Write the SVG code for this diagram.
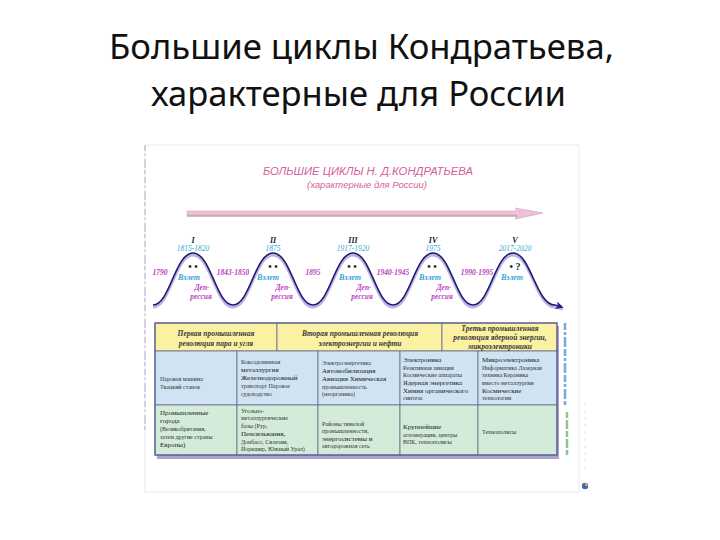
<svg xmlns="http://www.w3.org/2000/svg" width="720" height="540" viewBox="0 0 720 540">
<defs>
<style>
.ttl{font-family:"Noto Sans","Open Sans","Liberation Sans",sans-serif;font-size:35px;fill:#111}
.pk{font-family:"Liberation Sans",Arial,sans-serif;font-style:italic;fill:#d4609a}
.rn{font-family:"Liberation Serif",serif;font-style:italic;font-weight:bold;font-size:8px;fill:#222;text-anchor:middle}
.yr{font-family:"Liberation Serif",serif;font-style:italic;font-size:7.5px;fill:#3aa6d6;text-anchor:middle}
.yl{font-family:"Liberation Serif",serif;font-style:italic;font-weight:bold;font-size:7.5px;fill:#c040c0;text-anchor:middle}
.vz{font-family:"Liberation Serif",serif;font-style:italic;font-weight:bold;font-size:8px;fill:#3aa6d6;text-anchor:middle}
.dp{font-family:"Liberation Serif",serif;font-style:italic;font-weight:bold;font-size:7.5px;fill:#c040c0;text-anchor:middle}
.dot{font-family:"Liberation Serif",serif;font-weight:bold;font-size:10px;fill:#222;text-anchor:middle}
.hd{font-family:"Liberation Serif",serif;font-style:italic;font-weight:bold;font-size:7.5px;fill:#3a3a3a;text-anchor:middle}
.c{font-family:"Liberation Serif",serif;font-size:6px;fill:#333}
.b{font-size:7px;fill:#222}
.cell{stroke:#6a6a8a;stroke-width:0.8}
</style>
<marker id="ah" viewBox="0 0 10 10" refX="8" refY="5" markerWidth="5" markerHeight="5" orient="auto">
<path d="M0,0 L10,5 L0,10 L3,5 Z" fill="#22227a"/>
</marker>
</defs>
<rect width="720" height="540" fill="#fff"/>

<g id="slide-title">
<text class="ttl" x="109" y="59" textLength="505" lengthAdjust="spacingAndGlyphs">Большие циклы Кондратьева,</text>
<text class="ttl" x="151" y="106" textLength="415" lengthAdjust="spacingAndGlyphs">характерные для России</text>
</g>

<g id="frame">
<rect x="145" y="145" width="434" height="347" fill="#fff" stroke="#e6eaf2" stroke-width="1"/>
<line x1="145" y1="145" x2="145" y2="432" stroke="#c8c8d0" stroke-width="1.5" stroke-dasharray="6 3 2 3 9 2 4 3"/>
<line x1="585" y1="403" x2="585" y2="473" stroke="#e0e4ec" stroke-width="1" stroke-dasharray="3 4"/>
<circle cx="585" cy="486" r="3.2" fill="#3a6ab8"/>
<path d="M585,483 a3,3 0 0 1 3,3 h-3 z" fill="#e89a40"/>
</g>

<g id="chart-title">
<text class="pk" x="368" y="175" font-size="10" text-anchor="middle" textLength="210" lengthAdjust="spacingAndGlyphs">БОЛЬШИЕ ЦИКЛЫ Н. Д.КОНДРАТЬЕВА</text>
<text class="pk" x="367" y="188" font-size="9.5" text-anchor="middle">(характерные для России)</text>
</g>

<g id="time-arrow">
<rect x="187" y="215" width="330" height="1.8" fill="#b8b0b8"/>
<rect x="187" y="211" width="330" height="4" fill="#f3bfd2" stroke="#e49ab8" stroke-width="0.5"/>
<polygon points="515,208 543,213 515,219 519,213" fill="#f0c0d8" stroke="#c8a0c0" stroke-width="0.6"/>
</g>

<g id="connectors">
<path d="M153,307 C170,307 175,255 193,255 C211,255 216,307 233,307 C250,307 255,255 273,255 C291,255 296,307 313,307 C330,307 335,255 353,255 C371,255 376,307 393,307 C410,307 415,255 433,255 C451,255 456,307 473,307 C490,307 495,255 513,255 C531,255 536,307 555,307 L563,309" fill="none" stroke="#b8b4e8" stroke-width="3"/>
<path d="M153,305 C170,305 175,253 193,253 C211,253 216,305 233,305 C250,305 255,253 273,253 C291,253 296,305 313,305 C330,305 335,253 353,253 C371,253 376,305 393,305 C410,305 415,253 433,253 C451,253 456,305 473,305 C490,305 495,253 513,253 C531,253 536,305 555,305 L562,307" fill="none" stroke="#1c1c6a" stroke-width="1.6" marker-end="url(#ah)"/>
</g>

<g id="cycle-1">
<text class="rn" x="193" y="243">I</text>
<text class="yr" x="193" y="251">1815-1820</text>
<text class="dot" x="193" y="270">•   •</text>
<text class="vz" x="189" y="280">Взлет</text>
<text class="dp" x="202" y="290">Деп-</text>
<text class="dp" x="201" y="299">рессия</text>
</g>
<g id="cycle-2">
<text class="rn" x="273" y="243">II</text>
<text class="yr" x="273" y="251">1875</text>
<text class="dot" x="273" y="270">•   •</text>
<text class="vz" x="268" y="280">Взлет</text>
<text class="dp" x="283" y="290">Деп-</text>
<text class="dp" x="282" y="299">рессия</text>
</g>
<g id="cycle-3">
<text class="rn" x="353" y="243">III</text>
<text class="yr" x="353" y="251">1917-1920</text>
<text class="dot" x="352" y="270">•   •</text>
<text class="vz" x="350" y="280">Взлет</text>
<text class="dp" x="364" y="290">Деп-</text>
<text class="dp" x="362" y="299">рессия</text>
</g>
<g id="cycle-4">
<text class="rn" x="433" y="243">IV</text>
<text class="yr" x="433" y="251">1975</text>
<text class="dot" x="432" y="270">•   •</text>
<text class="vz" x="430" y="280">Взлет</text>
<text class="dp" x="444" y="290">Деп-</text>
<text class="dp" x="442" y="299">рессия</text>
</g>
<g id="cycle-5">
<text class="rn" x="515" y="243">V</text>
<text class="yr" x="515" y="251">2017-2020</text>
<text class="dot" x="515" y="270">•  ?</text>
<text class="vz" x="512" y="280">Взлет</text>
</g>
<g id="trough-years">
<text class="yl" x="160" y="275">1790</text>
<text class="yl" x="233" y="275">1843-1850</text>
<text class="yl" x="313" y="275">1895</text>
<text class="yl" x="393" y="275">1940-1945</text>
<text class="yl" x="477" y="275">1990-1995</text>
</g>

<g id="table">
<rect x="157" y="326" width="402" height="133" fill="#a8a4cc"/>
<rect x="155" y="323" width="122" height="28" fill="#fbf1a2" class="cell"/>
<rect x="277" y="323" width="165" height="28" fill="#fbf1a2" class="cell"/>
<rect x="442" y="323" width="115" height="28" fill="#fbf1a2" class="cell"/>
<rect x="155" y="351" width="82" height="54" fill="#cfe3f3" class="cell"/>
<rect x="237" y="351" width="81" height="54" fill="#cfe3f3" class="cell"/>
<rect x="318" y="351" width="82" height="54" fill="#cfe3f3" class="cell"/>
<rect x="400" y="351" width="78" height="54" fill="#cfe3f3" class="cell"/>
<rect x="478" y="351" width="79" height="54" fill="#cfe3f3" class="cell"/>
<rect x="155" y="405" width="82" height="50" fill="#d3ecd9" class="cell"/>
<rect x="237" y="405" width="81" height="50" fill="#d3ecd9" class="cell"/>
<rect x="318" y="405" width="82" height="50" fill="#d3ecd9" class="cell"/>
<rect x="400" y="405" width="78" height="50" fill="#d3ecd9" class="cell"/>
<rect x="478" y="405" width="79" height="50" fill="#d3ecd9" class="cell"/>
<rect x="155" y="323" width="402" height="132" fill="none" stroke="#5a5a96" stroke-width="1.2"/>
<line x1="565" y1="323" x2="565" y2="405" stroke="#7aaad8" stroke-width="2.5" stroke-dasharray="7 2 3 2 10 2"/>
<line x1="567" y1="412" x2="567" y2="455" stroke="#8cc88c" stroke-width="2.5" stroke-dasharray="6 2 9 2"/>
</g>

<g id="header-row">
<text class="hd" x="216" y="336">Первая промышленная</text>
<text class="hd" x="216" y="346">революция пара и угля</text>
<text class="hd" x="360" y="336">Вторая промышленная революция</text>
<text class="hd" x="360" y="346">электроэнергии и нефти</text>
<text class="hd" x="500" y="331">Третья промышленная</text>
<text class="hd" x="500" y="340">революция ядерной энергии,</text>
<text class="hd" x="500" y="349">микроэлектроники</text>
</g>

<g id="row-branches" class="c">
<text x="160" y="381">Паровая машина</text>
<text x="160" y="389">Ткацкий станок</text>
<text x="241" y="364">Коксодоменная</text>
<text x="241" y="372" class="b">металлургия</text>
<text x="241" y="380" class="b">Железнодорожный</text>
<text x="241" y="388">транспорт Паровое</text>
<text x="241" y="396">судоходство</text>
<text x="322" y="365">Электроэнергетика</text>
<text x="322" y="373" class="b">Автомобилизация</text>
<text x="322" y="381" class="b">Авиация Химическая</text>
<text x="322" y="389">промышленность</text>
<text x="322" y="396">(неорганика)</text>
<text x="403" y="362" class="b">Электроника</text>
<text x="403" y="370">Реактивная авиация</text>
<text x="403" y="377">Космические аппараты</text>
<text x="403" y="385" class="b">Ядерная энергетика</text>
<text x="403" y="393" class="b">Химия органического</text>
<text x="403" y="400">синтеза</text>
<text x="482" y="362" class="b">Микроэлектроника</text>
<text x="482" y="370">Информатика Лазерная</text>
<text x="482" y="377">техника Керамика</text>
<text x="482" y="385">вместо металлургии</text>
<text x="482" y="393" class="b">Космические</text>
<text x="482" y="400">технологии</text>
</g>

<g id="row-regions" class="c">
<text x="160" y="415" class="b">Промышленные</text>
<text x="160" y="423" class="b">города</text>
<text x="160" y="431">(Великобритания,</text>
<text x="160" y="439">затем другие страны</text>
<text x="160" y="447" class="b">Европы)</text>
<text x="241" y="413">Угольно-</text>
<text x="241" y="420">металлургические</text>
<text x="241" y="428">базы (Рур,</text>
<text x="241" y="436" class="b">Пенсильвания,</text>
<text x="241" y="444">Донбасс, Силезия,</text>
<text x="241" y="451">Йоркшир, Южный Урал)</text>
<text x="322" y="426">Районы тяжелой</text>
<text x="322" y="433">промышленности,</text>
<text x="322" y="441" class="b">энергосистемы и</text>
<text x="322" y="448">автодорожная сеть</text>
<text x="403" y="429" class="b">Крупнейшие</text>
<text x="403" y="437">агломерации, центры</text>
<text x="403" y="444">ВПК, технополисы</text>
<text x="482" y="434">Технополисы</text>
</g>
</svg>
